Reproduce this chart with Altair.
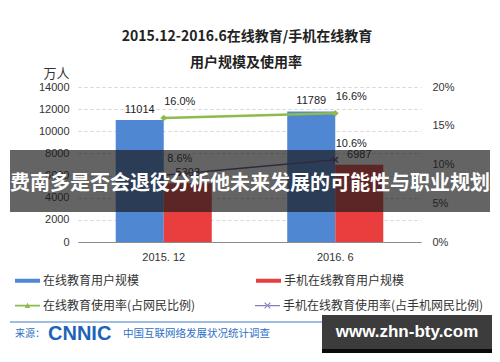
import altair as alt
import pandas as pd

# ---------------- data ----------------
categories = ["2015. 12", "2016. 6"]
bar_series = ["在线教育用户规模", "手机在线教育用户规模"]
online_users = [11014, 11789]
mobile_users = [5303, 6987]
line_series = ["在线教育使用率(占网民比例)", "手机在线教育使用率(占手机网民比例)"]
online_rate = [0.160, 0.166]
mobile_rate = [0.086, 0.106]
left_ticks = [0, 2000, 4000, 6000, 8000, 10000, 12000, 14000]
right_ticks = [0, 0.05, 0.10, 0.15, 0.20]

bars_df = pd.DataFrame({
    "cat": categories * 2,
    "series": [bar_series[0]] * 2 + [bar_series[1]] * 2,
    "value": online_users + mobile_users,
})
lines_df = pd.DataFrame({
    "cat": categories * 2,
    "series": [line_series[0]] * 2 + [line_series[1]] * 2,
    "rate": online_rate + mobile_rate,
})

BLUE = "#4f87d3"
RED = "#e83e3e"
GREEN = "#8dbb4c"
PURPLE = "#8a7cb8"
PURPLE_DARK = "#5e4a86"
CJK = "Noto Sans CJK SC"
LAT = "Liberation Sans"

x_enc = alt.X(
    "cat:N", sort=categories,
    scale=alt.Scale(paddingInner=0.44, paddingOuter=0.22),
    axis=alt.Axis(title=None, labelAngle=0, ticks=False, grid=False,
                  domainColor="#8c8c8c", labelFont=LAT, labelFontSize=11,
                  labelColor="#333333", labelPadding=9),
)
xoff = alt.XOffset("series:N", sort=bar_series,
                   scale=alt.Scale(paddingInner=0, paddingOuter=0))

y_left = alt.Y(
    "value:Q", scale=alt.Scale(domain=[0, 14000], nice=False),
    axis=alt.Axis(values=left_ticks, format="d", title="万人", titleAngle=0,
                  titleX=-22, titleY=-14, titleFont=CJK, titleFontSize=13,
                  titleFontWeight="normal", titleColor="#333333",
                  titleAlign="center", titleBaseline="middle",
                  labelFont=LAT, labelFontSize=11, labelColor="#333333",
                  labelPadding=9, ticks=False, domain=False,
                  gridDash=[3, 3], gridColor="#d4d4d4"),
)
y_left_noaxis = alt.Y("value:Q", scale=alt.Scale(domain=[0, 14000], nice=False), axis=None)
y_right = alt.Y(
    "rate:Q", scale=alt.Scale(domain=[0, 0.20], nice=False),
    axis=alt.Axis(orient="right", values=right_ticks, format=".0%", title=None,
                  grid=False, domain=False, ticks=False, labelPadding=11,
                  labelFont=LAT, labelFontSize=11, labelColor="#333333"),
)
y_right_noaxis = alt.Y("rate:Q", scale=alt.Scale(domain=[0, 0.20], nice=False), axis=None)

bar_legend = alt.Legend(
    title=None, orient="none", legendX=-63, legendY=181, columns=2,
    columnPadding=116, symbolType="M-1,-0.16H1V0.16H-1Z", symbolSize=625,
    symbolStrokeWidth=0, labelFont=CJK, labelFontSize=12, labelColor="#333333",
    labelOffset=3, labelLimit=400,
)


def line_legend(x):
    return alt.Legend(
        title=None, orient="none", legendX=x, legendY=206,
        symbolSize=625, symbolStrokeWidth=0, symbolOpacity=1,
        labelFont=CJK, labelFontSize=12, labelColor="#333333",
        labelOffset=3, labelLimit=400,
    )


TRI = "M-1,-0.07H1V0.07H-1Z M-0.22,0.2L0,-0.22L0.22,0.2Z"
XSH = ("M-1,-0.05H1V0.05H-1Z M-0.26,-0.2L-0.2,-0.26L0.26,0.2L0.2,0.26Z "
       "M-0.26,0.2L-0.2,0.26L0.26,-0.2L0.2,-0.26Z")

base_b = alt.Chart(bars_df)
bars = base_b.mark_bar().encode(
    x=x_enc, xOffset=xoff, y=y_left,
    color=alt.Color("series:N", sort=bar_series,
                    scale=alt.Scale(domain=bar_series, range=[BLUE, RED]),
                    legend=bar_legend),
)
bar_text = base_b.mark_text(dy=-10, font=LAT, fontSize=11, color="#222222").encode(
    x=x_enc, xOffset=xoff, y=y_left_noaxis, text=alt.Text("value:Q", format="d"),
)

base_l = alt.Chart(lines_df)
green_df = base_l.transform_filter(alt.datum.series == line_series[0])
purple_df = base_l.transform_filter(alt.datum.series == line_series[1])

green_line = green_df.mark_line(strokeWidth=2.5, color=GREEN).encode(x=x_enc, y=y_right)
purple_line = purple_df.mark_line(strokeWidth=1.5, color=PURPLE_DARK).encode(
    x=x_enc, y=y_right_noaxis)
green_pts = green_df.mark_point(
    shape="diamond", filled=True, size=45, color=GREEN, opacity=1
).encode(x=x_enc, y=y_right_noaxis)
purple_pts = purple_df.mark_point(
    shape="M-1,-1L1,1M-1,1L1,-1", filled=False, size=30, color=PURPLE_DARK,
    strokeWidth=1.5, opacity=1
).encode(x=x_enc, y=y_right_noaxis)
line_text = base_l.mark_text(dx=16, dy=-16, font=LAT, fontSize=11, color="#222222").encode(
    x=x_enc, y=y_right_noaxis, text=alt.Text("rate:Q", format=".1%"),
)
carrier_g = green_df.mark_point(filled=True, opacity=0, color=GREEN).encode(
    x=x_enc, y=y_right_noaxis,
    shape=alt.Shape("series:N", scale=alt.Scale(domain=[line_series[0]], range=[TRI]),
                    legend=line_legend(-63)),
)
carrier_p = purple_df.mark_point(filled=True, opacity=0, color=PURPLE).encode(
    x=x_enc, y=y_right_noaxis,
    shape=alt.Shape("series:N", scale=alt.Scale(domain=[line_series[1]], range=[XSH]),
                    legend=line_legend(177)),
)

# ---------------- decorations ----------------
one = alt.Data(values=[{"k": 1}])


def txt(s, x, y, size, color="#222222", weight="normal", font=CJK, align="center"):
    return alt.Chart(one).mark_text(
        text=s, fontSize=size, fontWeight=weight, font=font, color=color,
        align=align, baseline="middle"
    ).encode(x=alt.value(x), y=alt.value(y))


def box(x1, x2, y1, y2, color, opacity=1.0):
    return alt.Chart(one).mark_rect(color=color, opacity=opacity).encode(
        x=alt.value(x1), x2=alt.value(x2), y=alt.value(y1), y2=alt.value(y2)
    )


title1 = txt("2015.12-2016.6在线教育/手机在线教育", 169, -50, 14, weight="bold")
title2 = txt("用户规模及使用率", 168, -24, 14, weight="bold")

banner = box(-68, 412, 63, 125, "#1a1a1a", 0.68)
banner_text = txt("费南多是否会退役分析他未来发展的可能性与职业规划", 172, 97, 20,
                  color="#ffffff", weight="bold")

sep = box(-68, 412, 234, 236, "#9dbde3")
src1 = txt("来源：", -63, 247, 10, color="#2f6fc6", align="left")
src_logo = txt("CNNIC", -30, 247, 20, color="#1f63b8", weight="bold", font=LAT, align="left")
src2 = txt("中国互联网络发展状况统计调查", 45, 247, 10.5, color="#2f6fc6", align="left")
src_date = txt("2016.6", 400, 247, 10, color="#555555", font=LAT, align="right")

wm_box = box(244, 414, 228, 262, "#3c3c3c")
wm_strip = box(244, 414, 262, 266, "#0a0a0a")
wm_text = txt("www.zhn-bty.com", 329, 245, 17, color="#ffffff", weight="bold", font=LAT)

chart = alt.layer(
    bars, bar_text,
    green_line, purple_line, green_pts, purple_pts, line_text,
    carrier_g, carrier_p,
    title1, title2, banner, banner_text, sep, src1, src_logo, src2,
    src_date, wm_box, wm_strip, wm_text,
).resolve_scale(
    y="independent", shape="independent"
).properties(
    width=343, height=155,
    autosize=alt.AutoSizeParams(type="none"),
    padding={"left": 78, "top": 87, "right": 79, "bottom": 120},
    background="#ffffff",
).configure_view(stroke=None)

chart.save("out.html", embed_options={"renderer": "svg", "actions": False})
